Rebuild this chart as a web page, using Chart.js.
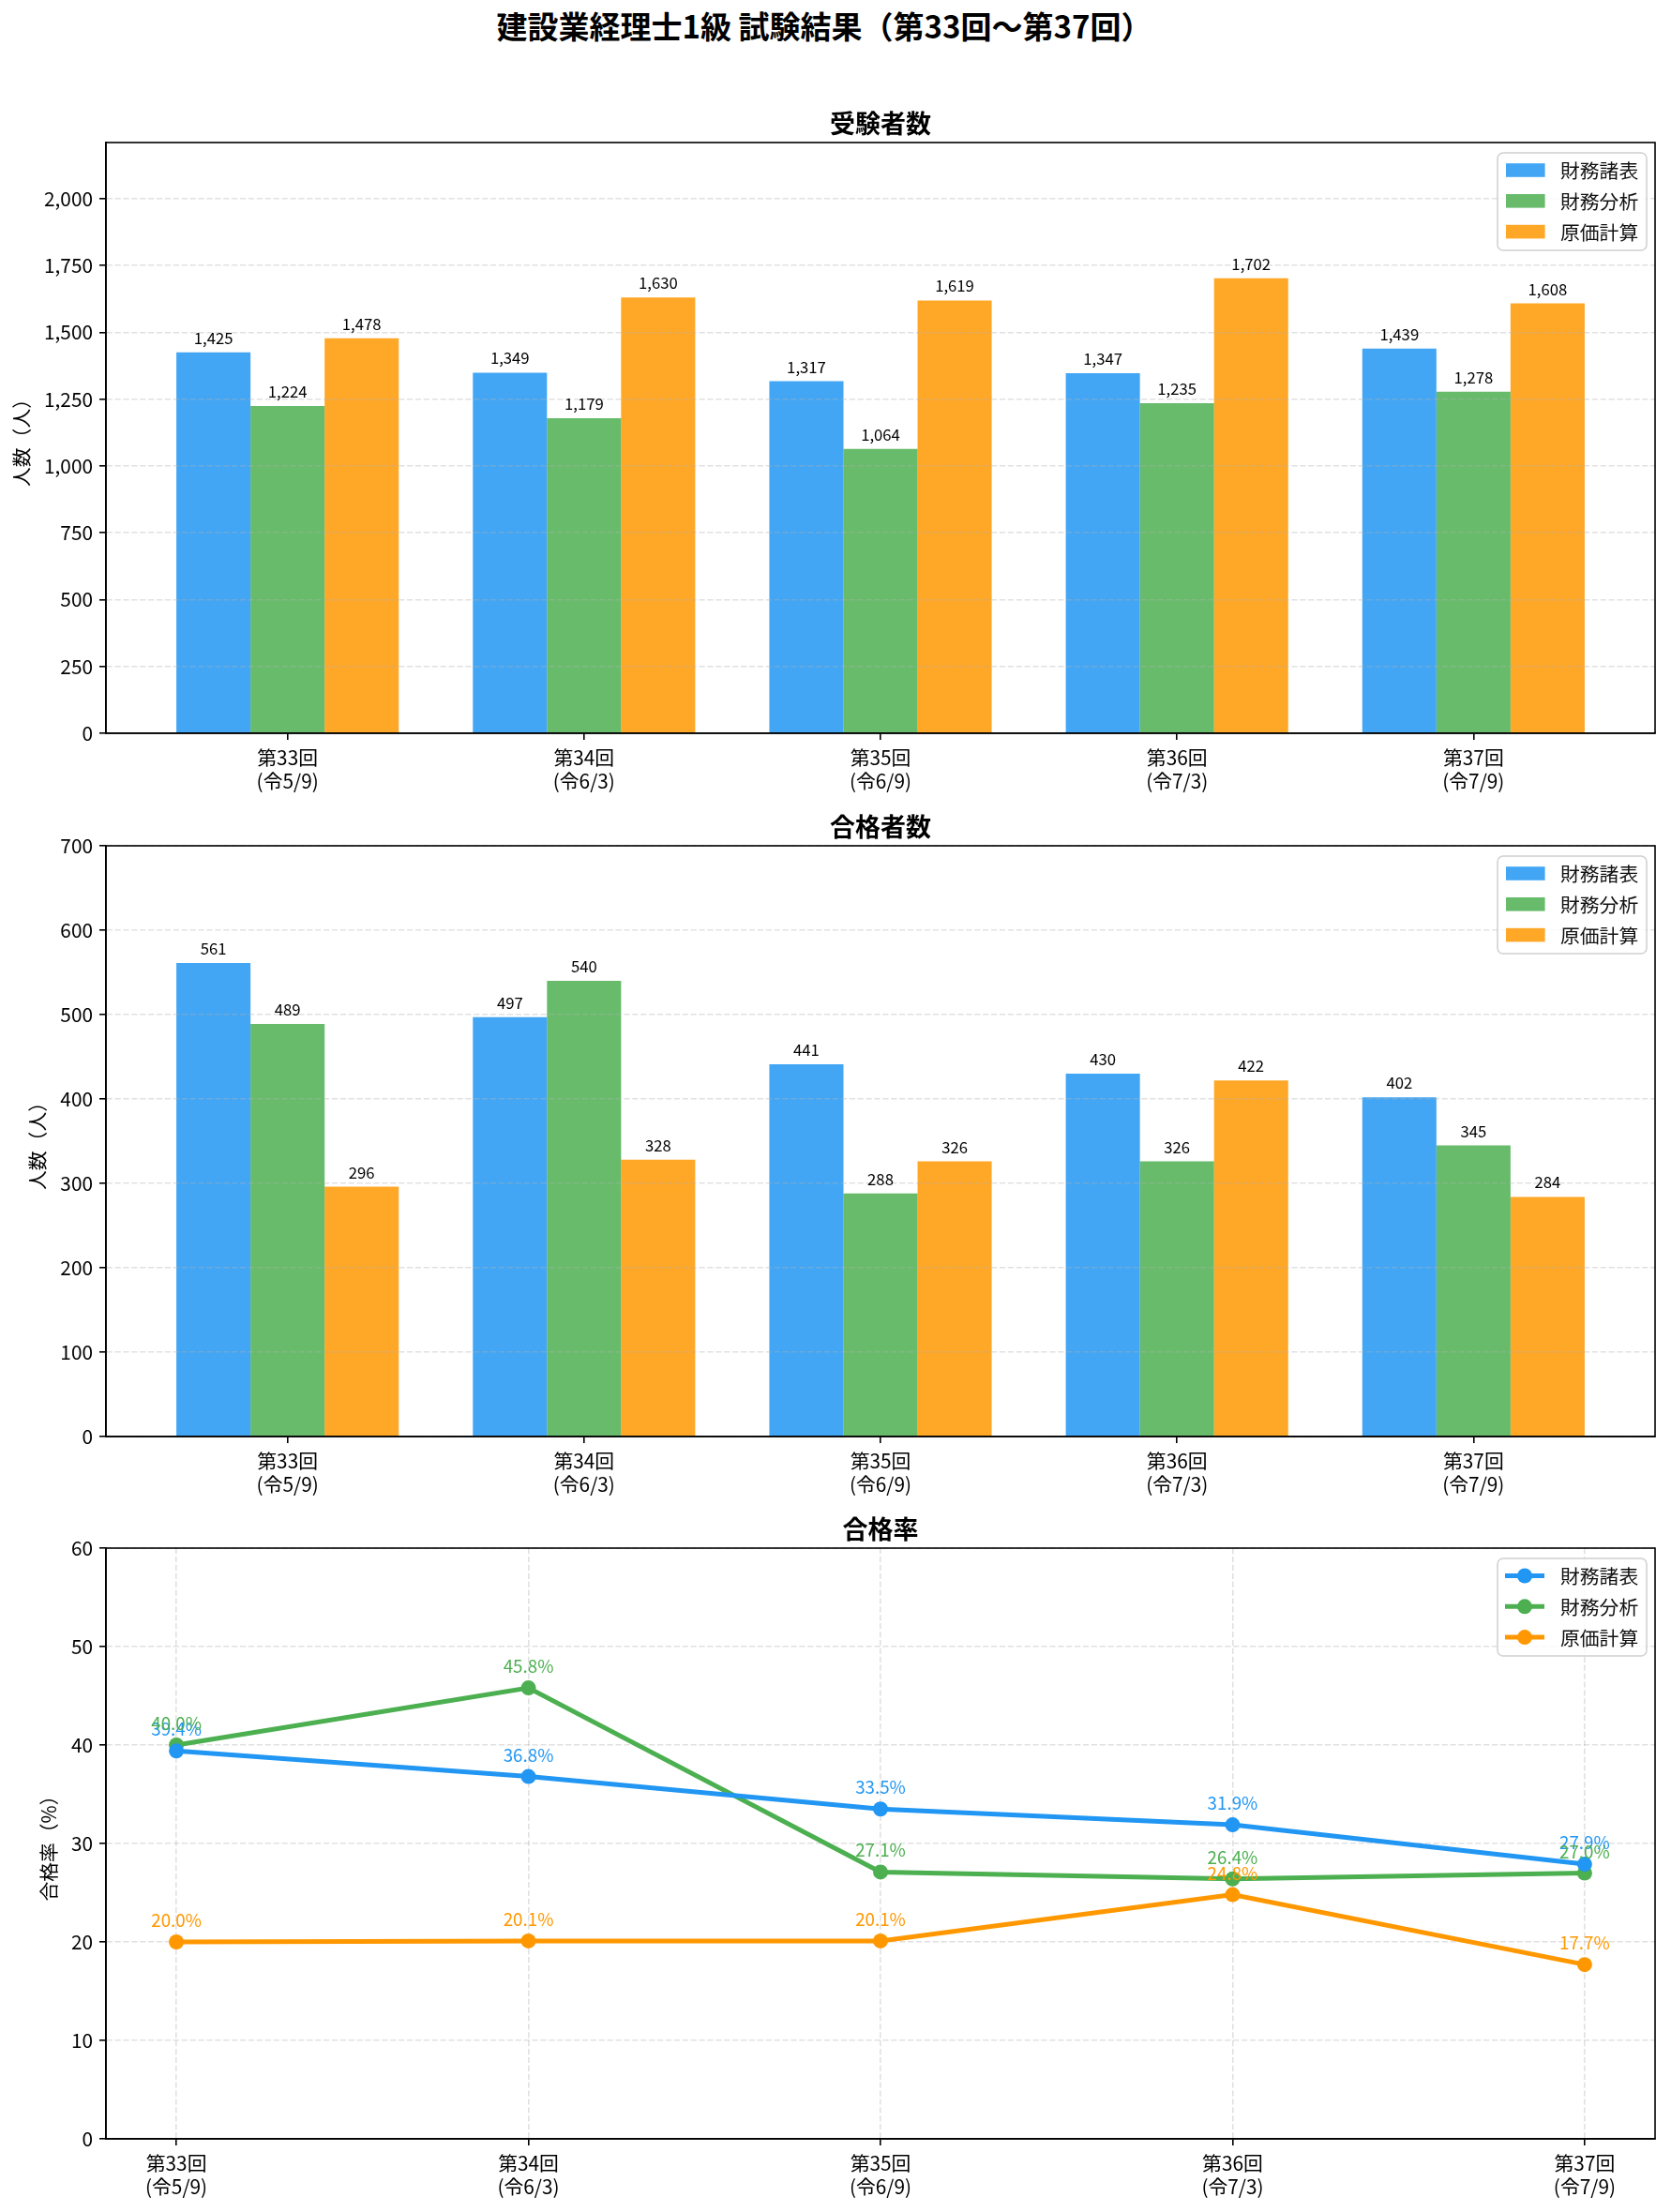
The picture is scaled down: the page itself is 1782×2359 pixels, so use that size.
<!DOCTYPE html>
<html>
<head>
<meta charset="utf-8">
<script src="https://cdn.jsdelivr.net/npm/chart.js@4.4.1/dist/chart.umd.min.js"></script>
<style>
  html, body { margin: 0; padding: 0; background: #fff; }
  body { width: 1782px; height: 2359px; position: relative; overflow: hidden; }
  #mainTitle { position: absolute; left: 0; top: 7px; width: 1758px; text-align: center;
    font-family: 'Noto Sans CJK JP', 'Noto Sans', sans-serif; font-weight: bold; font-size: 33px; line-height: 40px; color: #000; }
  .box { position: absolute; left: 0; width: 1782px; height: 750px; }
</style>
</head>
<body>
<div id="mainTitle">建設業経理士1級 試験結果（第33回〜第37回）</div>
<div class="box" style="top:102px"><canvas id="c1"></canvas></div>
<div class="box" style="top:852px"><canvas id="c2"></canvas></div>
<div class="box" style="top:1601px"><canvas id="c3"></canvas></div>
<script>
// ---- data ----
const categories = [['第33回', '(令5/9)'], ['第34回', '(令6/3)'], ['第35回', '(令6/9)'], ['第36回', '(令7/3)'], ['第37回', '(令7/9)']];
const seriesNames = ['財務諸表', '財務分析', '原価計算'];
const examineesShohyo = [1425, 1349, 1317, 1347, 1439];
const examineesBunseki = [1224, 1179, 1064, 1235, 1278];
const examineesGenka = [1478, 1630, 1619, 1702, 1608];
const passersShohyo = [561, 497, 441, 430, 402];
const passersBunseki = [489, 540, 288, 326, 345];
const passersGenka = [296, 328, 326, 422, 284];
const rateShohyo = [39.4, 36.8, 33.5, 31.9, 27.9];
const rateBunseki = [40.0, 45.8, 27.1, 26.4, 27.0];
const rateGenka = [20.0, 20.1, 20.1, 24.8, 17.7];
const examineesTicks = [0, 250, 500, 750, 1000, 1250, 1500, 1750, 2000];
const passersTicks = [0, 100, 200, 300, 400, 500, 600, 700];
const rateTicks = [0, 10, 20, 30, 40, 50, 60];
const examineesMax = 2210;
const passersMax = 700;
const rateMax = 60;

// ---- styles ----
const FONT = "'Noto Sans CJK JP', 'Noto Sans', sans-serif";
Chart.defaults.font.family = FONT;
Chart.defaults.color = '#000';
const colors = ['#2196F3', '#4CAF50', '#FF9800'];
const barColors = ['rgba(33,150,243,0.85)', 'rgba(76,175,80,0.85)', 'rgba(255,152,0,0.85)'];
const GRID = 'rgba(176,176,176,0.38)';
const DASH = [6.2, 2.7];

const framePlugin = {
  id: 'frame',
  afterDraw(chart) {
    const {ctx, chartArea: a} = chart;
    ctx.save();
    ctx.strokeStyle = '#000';
    ctx.lineWidth = 1.6;
    ctx.strokeRect(a.left, a.top, a.right - a.left, a.bottom - a.top);
    ctx.restore();
  }
};

const barLabelPlugin = {
  id: 'barLabels',
  afterDraw(chart, args, opts) {
    if (!opts.enabled) return;
    const {ctx} = chart;
    ctx.save();
    ctx.font = '16.7px ' + FONT;
    ctx.fillStyle = '#000';
    ctx.textAlign = 'center';
    ctx.textBaseline = 'alphabetic';
    chart.data.datasets.forEach((ds, i) => {
      chart.getDatasetMeta(i).data.forEach((el, j) => {
        ctx.fillText(ds.data[j].y.toLocaleString('en-US'), el.x, el.y - 9);
      });
    });
    ctx.restore();
  }
};

const lineLabelPlugin = {
  id: 'lineLabels',
  afterDatasetsDraw(chart, args, opts) {
    if (!opts.enabled) return;
    const {ctx} = chart;
    ctx.save();
    ctx.font = '18.75px ' + FONT;
    ctx.textAlign = 'center';
    ctx.textBaseline = 'alphabetic';
    chart.data.datasets.forEach((ds, i) => {
      ctx.fillStyle = ds.borderColor;
      chart.getDatasetMeta(i).data.forEach((el, j) => {
        ctx.fillText(ds.data[j].y.toFixed(1) + '%', el.x, el.y - 16);
      });
    });
    ctx.restore();
  }
};

const boxLegendPlugin = {
  id: 'boxLegend',
  afterDraw(chart, args, opts) {
    if (!opts.kind) return;
    const {ctx, chartArea: a} = chart;
    const w = 159, h = 104;
    const x = a.right - 9 - w, y = a.top + 11;
    ctx.save();
    ctx.beginPath();
    ctx.roundRect(x, y, w, h, 6);
    ctx.fillStyle = 'rgba(255,255,255,0.8)';
    ctx.fill();
    ctx.strokeStyle = '#d0d0d0';
    ctx.lineWidth = 1.5;
    ctx.stroke();
    ctx.font = '20.8px ' + FONT;
    ctx.textAlign = 'left';
    ctx.textBaseline = 'middle';
    chart.data.datasets.forEach((ds, i) => {
      const cy = y + 18.5 + i * 32.8;
      if (opts.kind === 'bar') {
        ctx.fillStyle = ds.backgroundColor;
        ctx.fillRect(x + 9, cy - 7.3, 41.6, 14.6);
      } else {
        ctx.strokeStyle = ds.borderColor;
        ctx.lineWidth = 5;
        ctx.beginPath();
        ctx.moveTo(x + 8, cy);
        ctx.lineTo(x + 50, cy);
        ctx.stroke();
        ctx.fillStyle = ds.borderColor;
        ctx.beginPath();
        ctx.arc(x + 29, cy, 8, 0, Math.PI * 2);
        ctx.fill();
      }
      ctx.fillStyle = '#111';
      ctx.fillText(ds.label, x + 67, cy + 1);
    });
    ctx.restore();
  }
};

function toXY(arr) { return arr.map((v, i) => ({x: i, y: v})); }

function xAxis(min, max, gridOnArea) {
  return {
    type: 'linear', min: min, max: max, offset: false,
    afterBuildTicks: (s) => { s.ticks = categories.map((c, i) => ({value: i})); },
    afterFit: (s) => { s.height = 70; },
    ticks: {
      autoSkip: false, maxRotation: 0, padding: 7,
      font: {size: 20.8, lineHeight: 1.2}, color: '#000',
      callback: (v) => categories[v]
    },
    grid: {
      display: true, drawOnChartArea: gridOnArea, drawTicks: true, offset: false,
      color: GRID, lineWidth: 1.6, tickLength: 7, tickColor: '#000', tickWidth: 1.6, tickBorderDash: []
    },
    border: {display: true, color: '#000', width: 1.6, dash: DASH, z: 2}
  };
}

function yAxis(max, ticksArr, title, titlePad, gridZ) {
  return {
    type: 'linear', min: 0, max: max,
    afterBuildTicks: (s) => { s.ticks = ticksArr.map(v => ({value: v})); },
    afterFit: (s) => { s.width = 113; },
    ticks: {
      padding: 7, font: {size: 20.8, lineHeight: 1.2}, color: '#000',
      callback: (v) => Number(v).toLocaleString('en-US')
    },
    title: {display: true, text: title, font: {size: 20.8, lineHeight: 1.2}, color: '#000', padding: {top: titlePad, bottom: 0}},
    grid: {
      display: true, drawOnChartArea: true, drawTicks: true, z: gridZ,
      color: GRID, lineWidth: 1.6, tickLength: 7, tickColor: '#000', tickWidth: 1.6, tickBorderDash: []
    },
    border: {display: true, color: '#000', width: 1.6, dash: DASH, z: 2}
  };
}

function commonOptions(titleText) {
  return {
    responsive: true, maintainAspectRatio: false, animation: false,
    layout: {padding: {left: 0, right: 17, top: 0, bottom: 0}},
    plugins: {
      legend: {display: false},
      tooltip: {enabled: false},
      title: {display: true, text: titleText, fullSize: false, color: '#000',
        font: {size: 27, weight: 'bold', lineHeight: 1.2}, padding: {top: 14, bottom: 3.6}}
    }
  };
}

function makeBar(id, titleText, yTitle, series, max, ticksArr, titlePad) {
  const opts = commonOptions(titleText);
  opts.scales = {x: xAxis(-0.6125, 4.6125, false), y: yAxis(max, ticksArr, yTitle, titlePad, 1)};
  opts.plugins.barLabels = {enabled: true};
  opts.plugins.boxLegend = {kind: 'bar'};
  opts.plugins.lineLabels = {enabled: false};
  return new Chart(document.getElementById(id), {
    type: 'bar',
    data: {
      datasets: series.map((arr, i) => ({
        label: seriesNames[i], data: toXY(arr),
        backgroundColor: barColors[i], borderWidth: 0,
        categoryPercentage: 0.75, barPercentage: 1.0
      }))
    },
    options: opts,
    plugins: [barLabelPlugin, framePlugin, boxLegendPlugin]
  });
}

makeBar('c1', '受験者数', '人数（人）', [examineesShohyo, examineesBunseki, examineesGenka], examineesMax, examineesTicks, 11);
makeBar('c2', '合格者数', '人数（人）', [passersShohyo, passersBunseki, passersGenka], passersMax, passersTicks, 28);

(function () {
  const opts = commonOptions('合格率');
  opts.scales = {x: xAxis(-0.2, 4.2, true), y: yAxis(rateMax, rateTicks, '合格率（%）', 40, -1)};
  opts.plugins.lineLabels = {enabled: true};
  opts.plugins.boxLegend = {kind: 'line'};
  opts.plugins.barLabels = {enabled: false};
  new Chart(document.getElementById('c3'), {
    type: 'line',
    data: {
      datasets: [rateShohyo, rateBunseki, rateGenka].map((arr, i) => ({
        label: seriesNames[i], data: toXY(arr),
        borderColor: colors[i], backgroundColor: colors[i],
        borderWidth: 5, tension: 0, fill: false,
        pointRadius: 8, pointHoverRadius: 8, pointBackgroundColor: colors[i],
        pointBorderColor: colors[i], pointBorderWidth: 0
      }))
    },
    options: opts,
    plugins: [lineLabelPlugin, framePlugin, boxLegendPlugin]
  });
})();
</script>
</body>
</html>
